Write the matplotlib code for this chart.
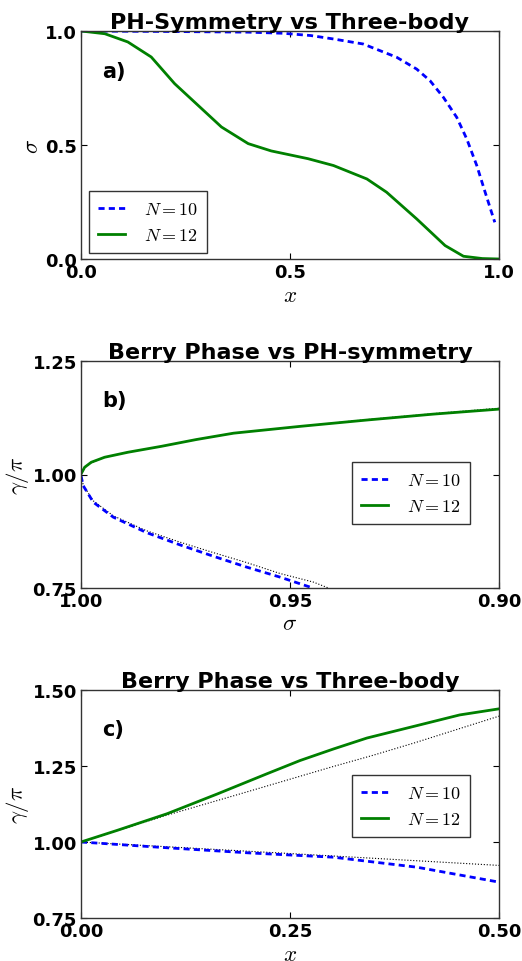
import matplotlib
matplotlib.use("Agg")
import matplotlib.pyplot as plt

plt.rcParams['mathtext.fontset'] = 'cm'
plt.rcParams['font.family'] = ['DejaVu Sans']

# ---- Panel a: sigma vs x ----
a_x10 = [0.0, 0.2, 0.4, 0.484, 0.55, 0.604, 0.675, 0.755, 0.803, 0.835, 0.867, 0.899, 0.923, 0.947, 0.967, 0.986, 0.990]
a_s10 = [1.0, 0.998, 0.995, 0.99, 0.98, 0.965, 0.943, 0.885, 0.833, 0.782, 0.709, 0.621, 0.526, 0.409, 0.292, 0.183, 0.161]
a_x12 = [0.0, 0.057, 0.112, 0.168, 0.224, 0.280, 0.336, 0.400, 0.455, 0.543, 0.604, 0.684, 0.731, 0.803, 0.871, 0.915, 0.96, 1.0]
a_s12 = [1.0, 0.988, 0.952, 0.886, 0.769, 0.674, 0.579, 0.506, 0.474, 0.440, 0.41, 0.351, 0.293, 0.176, 0.059, 0.012, 0.002, 0.0]

# ---- Panel b: gamma/pi vs sigma ----
b_s12 = [1.0, 0.99912, 0.99754, 0.99435, 0.98878, 0.98081, 0.97242, 0.9635, 0.9476, 0.9316, 0.9157, 0.90]
b_g12 = [1.001, 1.016, 1.027, 1.038, 1.049, 1.062, 1.077, 1.091, 1.106, 1.120, 1.133, 1.144]
b_s12_fit = [1.0, 0.99912, 0.99754, 0.99435, 0.98878, 0.98081, 0.97242, 0.9635, 0.9476, 0.9316, 0.9157, 0.90]
b_g12_fit = [1.0, 1.015, 1.026, 1.038, 1.049, 1.062, 1.077, 1.091, 1.106, 1.121, 1.134, 1.146]
b_s10 = [1.0, 0.99945, 0.99706, 0.99227, 0.9843, 0.97632, 0.96835, 0.96036, 0.9524, 0.9452]
b_g10 = [0.997, 0.975, 0.939, 0.906, 0.872, 0.845, 0.820, 0.796, 0.774, 0.752]
b_s10_fit = [1.0, 0.99945, 0.99706, 0.99227, 0.9843, 0.97632, 0.96835, 0.96036, 0.9524, 0.9444, 0.9408]
b_g10_fit = [1.0, 0.976, 0.942, 0.909, 0.876, 0.851, 0.828, 0.806, 0.782, 0.763, 0.750]

# ---- Panel c: gamma/pi vs x ----
c_x12 = [0.0, 0.043, 0.103, 0.163, 0.222, 0.262, 0.302, 0.342, 0.402, 0.453, 0.5]
c_g12 = [1.0, 1.038, 1.093, 1.158, 1.224, 1.268, 1.306, 1.342, 1.383, 1.418, 1.438]
c_x12_fit = [0.0, 0.1, 0.19, 0.3, 0.349, 0.4, 0.5]
c_g12_fit = [1.0, 1.086, 1.158, 1.247, 1.285, 1.327, 1.414]
c_x10 = [0.0, 0.103, 0.202, 0.302, 0.402, 0.5]
c_g10 = [1.0, 0.981, 0.964, 0.95, 0.917, 0.868]
c_x10_fit = [0.0, 0.25, 0.5]
c_g10_fit = [1.0, 0.962, 0.923]

labels = [r'$N=10$', r'$N=12$']
titles = ['PH-Symmetry vs Three-body', 'Berry Phase vs PH-symmetry', 'Berry Phase vs Three-body']

fig = plt.figure(figsize=(5.22, 9.62), dpi=100)
W, H = 522, 962

def make_ax(top, bottom):
    return fig.add_axes([81 / W, 1 - bottom / H, 418 / W, (bottom - top) / H])

axa = make_ax(32, 260)
axb = make_ax(362, 589)
axc = make_ax(691, 919)

dash = (2.2, 1.5)
blue = '#0000ff'
green = '#008000'

def style(ax, xt, yt, xl, yl, xfmt, yfmt):
    ax.set_xticks(xt)
    ax.set_yticks(yt)
    ax.set_xticklabels([xfmt % v for v in xt], fontweight='bold', fontsize=13)
    ax.set_yticklabels([yfmt % v for v in yt], fontweight='bold', fontsize=13)
    ax.tick_params(direction='in', top=True, right=True, length=4, width=0.8, pad=3, colors='black')
    for s in ax.spines.values():
        s.set_color('#333333')
        s.set_linewidth(1.0)
    ax.set_xlabel(xl, fontsize=16.5, labelpad=1)
    ax.set_ylabel(yl, fontsize=16.5, labelpad=1)

def legend(ax, anchor):
    lg = ax.legend(loc='upper left', bbox_to_anchor=anchor, fontsize=13, fancybox=False,
                   handlelength=1.5, borderpad=0.5, labelspacing=0.45, handletextpad=1.05,
                   borderaxespad=0)
    lg.get_frame().set_edgecolor('black')
    lg.get_frame().set_linewidth(1.0)
    return lg

# Panel a
axa.plot(a_x10, a_s10, color=blue, lw=2, dashes=dash, label=labels[0])
axa.plot(a_x12, a_s12, color=green, lw=2, label=labels[1])
axa.set_xlim(0, 1)
axa.set_ylim(0, 1)
style(axa, [0.0, 0.5, 1.0], [0.0, 0.5, 1.0], r'$x$', r'$\sigma$', '%.1f', '%.1f')
axa.set_title(titles[0], fontweight='bold', fontsize=16, pad=2)
axa.text(0.05, 0.825, 'a)', transform=axa.transAxes, fontsize=15, fontweight='bold', va='center')
legend(axa, ((89 - 81) / 418, (260 - 192) / 228))

# Panel b
axb.plot(b_s10_fit, b_g10_fit, color='black', lw=0.8, ls=':')
axb.plot(b_s12_fit, b_g12_fit, color='black', lw=0.8, ls=':')
axb.plot(b_s10, b_g10, color=blue, lw=2, dashes=dash, label=labels[0])
axb.plot(b_s12, b_g12, color=green, lw=2, label=labels[1])
axb.set_xlim(1.0, 0.9)
axb.set_ylim(0.75, 1.25)
style(axb, [1.0, 0.95, 0.9], [0.75, 1.0, 1.25], r'$\sigma$', r'$\gamma/\pi$', '%.2f', '%.2f')
axb.set_title(titles[1], fontweight='bold', fontsize=16, pad=2)
axb.text(0.05, 0.83, 'b)', transform=axb.transAxes, fontsize=15, fontweight='bold', va='center')
legend(axb, ((352 - 81) / 418, (589 - 463) / 227))

# Panel c
axc.plot(c_x10_fit, c_g10_fit, color='black', lw=0.8, ls=':')
axc.plot(c_x12_fit, c_g12_fit, color='black', lw=0.8, ls=':')
axc.plot(c_x10, c_g10, color=blue, lw=2, dashes=dash, label=labels[0])
axc.plot(c_x12, c_g12, color=green, lw=2, label=labels[1])
axc.set_xlim(0, 0.5)
axc.set_ylim(0.75, 1.5)
style(axc, [0.0, 0.25, 0.5], [0.75, 1.0, 1.25, 1.5], r'$x$', r'$\gamma/\pi$', '%.2f', '%.2f')
axc.set_title(titles[2], fontweight='bold', fontsize=16, pad=2)
axc.text(0.05, 0.83, 'c)', transform=axc.transAxes, fontsize=15, fontweight='bold', va='center')
legend(axc, ((352 - 81) / 418, (919 - 776) / 228))

fig.savefig('out.png', dpi=100)
